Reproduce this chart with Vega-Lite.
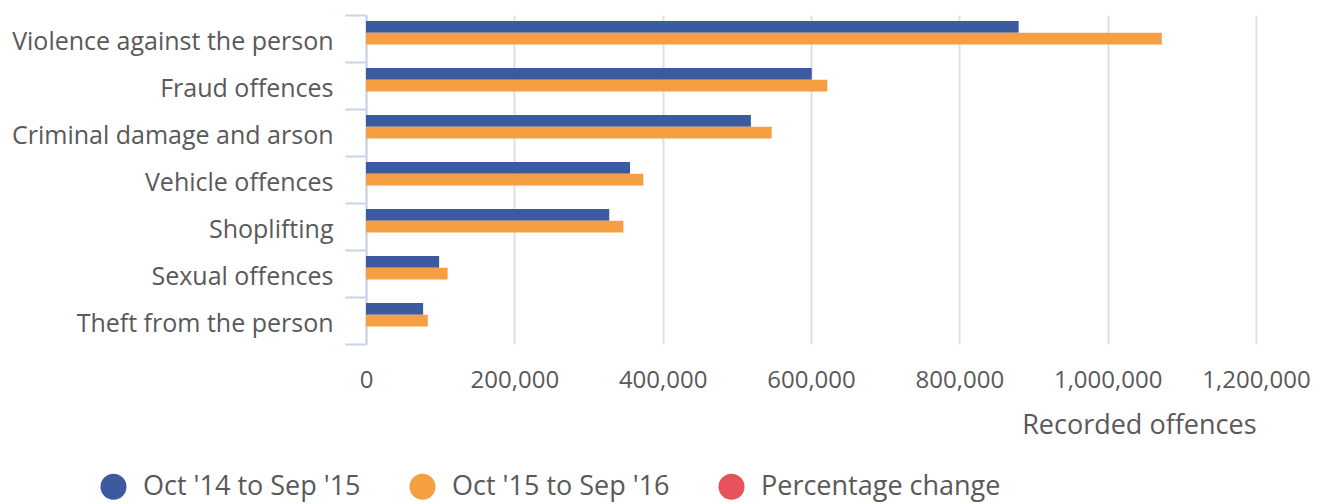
{
  "$schema": "https://vega.github.io/schema/vega-lite/v6.json",
  "autosize": {"type": "none"},
  "padding": {"left": 366, "top": 15, "right": 67, "bottom": 160},
  "width": 890,
  "height": 329,
  "config": {
    "font": "Open Sans",
    "view": {"stroke": null}
  },
  "data": {
    "values": [
      {"offence": "Violence against the person", "period": "Oct '14 to Sep '15", "value": 880000},
      {"offence": "Violence against the person", "period": "Oct '15 to Sep '16", "value": 1073000},
      {"offence": "Fraud offences", "period": "Oct '14 to Sep '15", "value": 601000},
      {"offence": "Fraud offences", "period": "Oct '15 to Sep '16", "value": 622000},
      {"offence": "Criminal damage and arson", "period": "Oct '14 to Sep '15", "value": 519000},
      {"offence": "Criminal damage and arson", "period": "Oct '15 to Sep '16", "value": 547000},
      {"offence": "Vehicle offences", "period": "Oct '14 to Sep '15", "value": 356000},
      {"offence": "Vehicle offences", "period": "Oct '15 to Sep '16", "value": 374000},
      {"offence": "Shoplifting", "period": "Oct '14 to Sep '15", "value": 328000},
      {"offence": "Shoplifting", "period": "Oct '15 to Sep '16", "value": 347000},
      {"offence": "Sexual offences", "period": "Oct '14 to Sep '15", "value": 98600},
      {"offence": "Sexual offences", "period": "Oct '15 to Sep '16", "value": 110000},
      {"offence": "Theft from the person", "period": "Oct '14 to Sep '15", "value": 77000},
      {"offence": "Theft from the person", "period": "Oct '15 to Sep '16", "value": 83300}
    ]
  },
  "mark": {"type": "bar"},
  "encoding": {
    "y": {
      "field": "offence",
      "type": "nominal",
      "sort": null,
      "scale": {"padding": 0},
      "axis": {
        "title": null,
        "labelFont": "Open Sans",
        "labelFontSize": 25,
        "labelColor": "#595959",
        "labelPadding": 12,
        "labelOffset": 3,
        "labelLimit": 500,
        "tickBand": "extent",
        "tickSize": 21,
        "tickColor": "#c8d2ea",
        "tickWidth": 2,
        "domainColor": "#c8d2ea",
        "domainWidth": 2,
        "grid": false
      }
    },
    "yOffset": {
      "field": "period",
      "type": "nominal",
      "scale": {"domain": ["Oct '14 to Sep '15", "Oct '15 to Sep '16", "Percentage change"], "paddingInner": 0, "paddingOuter": 0.5}
    },
    "x": {
      "field": "value",
      "type": "quantitative",
      "scale": {"domain": [0, 1200000], "nice": false},
      "axis": {
        "title": "Recorded offences",
        "titleFont": "Open Sans",
        "titleFontSize": 27,
        "titleFontWeight": "normal",
        "titleColor": "#595959",
        "titleAnchor": "end",
        "titlePadding": 20,
        "values": [0, 200000, 400000, 600000, 800000, 1000000, 1200000],
        "format": ",d",
        "labelFont": "Open Sans",
        "labelFontSize": 24,
        "labelColor": "#595959",
        "labelPadding": 24,
        "labelFlush": false,
        "ticks": false,
        "tickSize": 0,
        "domain": false,
        "grid": true,
        "gridColor": "#e0e0e0",
        "gridWidth": 2
      }
    },
    "color": {
      "field": "period",
      "type": "nominal",
      "scale": {
        "domain": ["Oct '14 to Sep '15", "Oct '15 to Sep '16", "Percentage change"],
        "range": ["#3c5a9f", "#f59e42", "#e8525a"]
      },
      "legend": {
        "title": null,
        "orient": "none",
        "direction": "horizontal",
        "legendX": -266,
        "legendY": 458,
        "symbolType": "circle",
        "symbolSize": 676,
        "symbolOpacity": 1,
        "symbolStrokeWidth": 0,
        "labelFont": "Open Sans",
        "labelFontSize": 27,
        "labelColor": "#595959",
        "labelOffset": 16,
        "columnPadding": 48,
        "labelLimit": 500
      }
    }
  }
}
